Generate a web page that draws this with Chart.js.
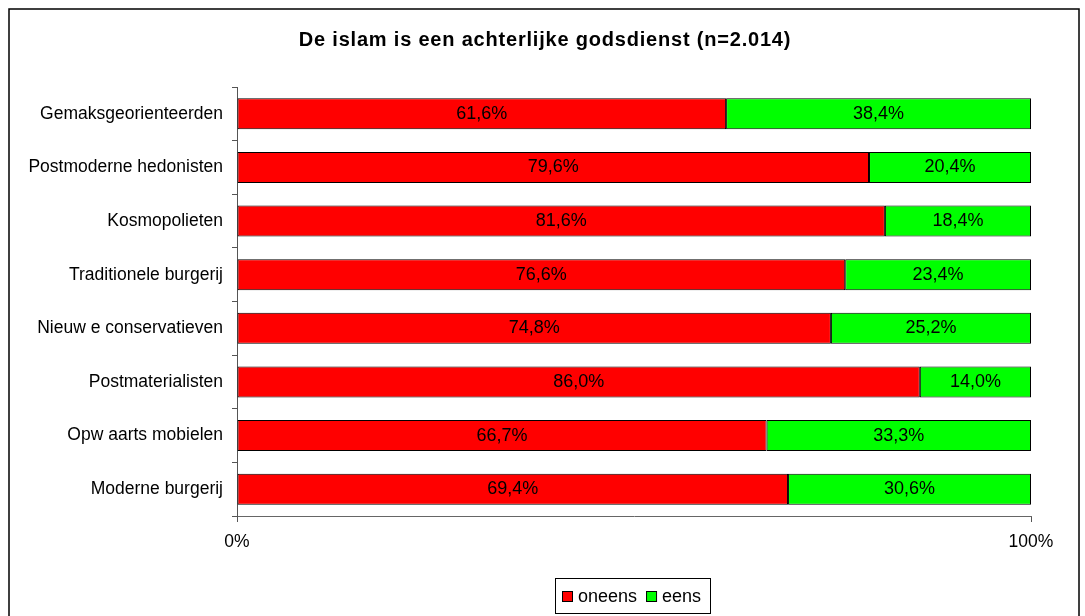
<!DOCTYPE html>
<html>
<head>
<meta charset="utf-8">
<script src="https://cdn.jsdelivr.net/npm/chart.js@4/dist/chart.umd.min.js"></script>
<style>
  html, body { margin: 0; padding: 0; background: #fff; }
  #wrap { width: 1085px; height: 616px; position: relative; }
</style>
</head>
<body>
<div id="wrap"><canvas id="c" width="1085" height="616"></canvas></div>
<script>
// Survey segments and share of respondents (percent)
const categories = [
  'Gemaksgeorienteerden',
  'Postmoderne hedonisten',
  'Kosmopolieten',
  'Traditionele burgerij',
  'Nieuw e conservatieven',
  'Postmaterialisten',
  'Opw aarts mobielen',
  'Moderne burgerij'
];
const oneens = [61.6, 79.6, 81.6, 76.6, 74.8, 86.0, 66.7, 69.4];
const eens   = [38.4, 20.4, 18.4, 23.4, 25.2, 14.0, 33.3, 30.6];
const seriesNames = ['oneens', 'eens'];
const xTicks = [0, 100];
const titleText = 'De islam is een achterlijke godsdienst (n=2.014)';

const FONT = 'Arial, "Liberation Sans", Helvetica, sans-serif';

// White background, outer frame and the bold title
const framePlugin = {
  id: 'frame',
  beforeDraw(chart) {
    const ctx = chart.ctx;
    ctx.save();
    ctx.fillStyle = '#fff';
    ctx.fillRect(0, 0, chart.width, chart.height);
    ctx.strokeStyle = '#000';
    ctx.lineWidth = 1.5;
    ctx.strokeRect(9, 9, 1070, 620);
    ctx.font = 'bold 20px ' + FONT;
    ctx.letterSpacing = '0.8px';
    ctx.fillStyle = '#000';
    ctx.textAlign = 'center';
    ctx.textBaseline = 'middle';
    ctx.fillText(titleText, 545, 40);
    ctx.restore();
  }
};

// Percentage labels centred in each bar segment
const valueLabels = {
  id: 'valueLabels',
  afterDatasetsDraw(chart) {
    const ctx = chart.ctx;
    ctx.save();
    ctx.font = '18px ' + FONT;
    ctx.fillStyle = '#000';
    ctx.textAlign = 'center';
    ctx.textBaseline = 'middle';
    chart.data.datasets.forEach((ds, di) => {
      chart.getDatasetMeta(di).data.forEach((el, i) => {
        const p = el.getProps(['x', 'y', 'base'], true);
        const cx = (p.x + p.base) / 2;
        ctx.fillText(ds.data[i].toFixed(1).replace('.', ',') + '%', cx, p.y);
      });
    });
    ctx.restore();
  }
};

// Boxed legend below the plot
const boxLegend = {
  id: 'boxLegend',
  afterDraw(chart) {
    const ctx = chart.ctx;
    ctx.save();
    ctx.font = '18px ' + FONT;
    ctx.textBaseline = 'middle';
    const bx = 555.5, by = 578.5, bw = 155, bh = 35;
    ctx.strokeStyle = '#000';
    ctx.lineWidth = 1;
    ctx.strokeRect(bx, by, bw, bh);
    let x = 562;
    const cy = by + bh / 2;
    chart.data.datasets.forEach((ds) => {
      ctx.fillStyle = ds.backgroundColor;
      ctx.fillRect(x, cy - 5, 10, 10);
      ctx.strokeStyle = '#000';
      ctx.lineWidth = 1;
      ctx.strokeRect(x + 0.5, cy - 4.5, 10, 10);
      ctx.fillStyle = '#000';
      ctx.textAlign = 'left';
      ctx.fillText(ds.label, x + 16, cy + 1);
      x += 16 + ctx.measureText(ds.label).width + 9;
    });
    ctx.restore();
  }
};

new Chart(document.getElementById('c'), {
  type: 'bar',
  data: {
    labels: categories,
    datasets: [
      { label: seriesNames[0], data: oneens, backgroundColor: '#FF0000', borderColor: '#000', borderWidth: 1, borderSkipped: false, barPercentage: 0.58, categoryPercentage: 1 },
      { label: seriesNames[1], data: eens, backgroundColor: '#00FF00', borderColor: '#000', borderWidth: 1, borderSkipped: false, barPercentage: 0.58, categoryPercentage: 1 }
    ]
  },
  options: {
    indexAxis: 'y',
    responsive: false,
    animation: false,
    devicePixelRatio: 1,
    layout: { padding: { left: 0, right: 54, top: 87, bottom: 0 } },
    plugins: {
      legend: { display: false },
      tooltip: { enabled: false },
      title: { display: false }
    },
    scales: {
      x: {
        stacked: true,
        min: 0,
        max: 100,
        afterBuildTicks(scale) { scale.ticks = xTicks.map(v => ({ value: v })); },
        afterFit(scale) { scale.height = 100; },
        ticks: {
          color: '#000',
          font: { family: FONT, size: 17.5 },
          padding: 10,
          maxRotation: 0,
          callback: v => v + '%'
        },
        grid: { drawOnChartArea: false, tickLength: 6, color: '#555', tickColor: '#555' },
        border: { color: '#666', width: 1 }
      },
      y: {
        stacked: true,
        afterFit(scale) { scale.width = 237; },
        ticks: {
          color: '#000',
          font: { family: FONT, size: 17.5 },
          padding: 9
        },
        grid: { drawOnChartArea: false, offset: true, tickLength: 5, color: '#555', tickColor: '#555' },
        border: { color: '#555', width: 1 }
      }
    }
  },
  plugins: [framePlugin, valueLabels, boxLegend]
});
</script>
</body>
</html>
